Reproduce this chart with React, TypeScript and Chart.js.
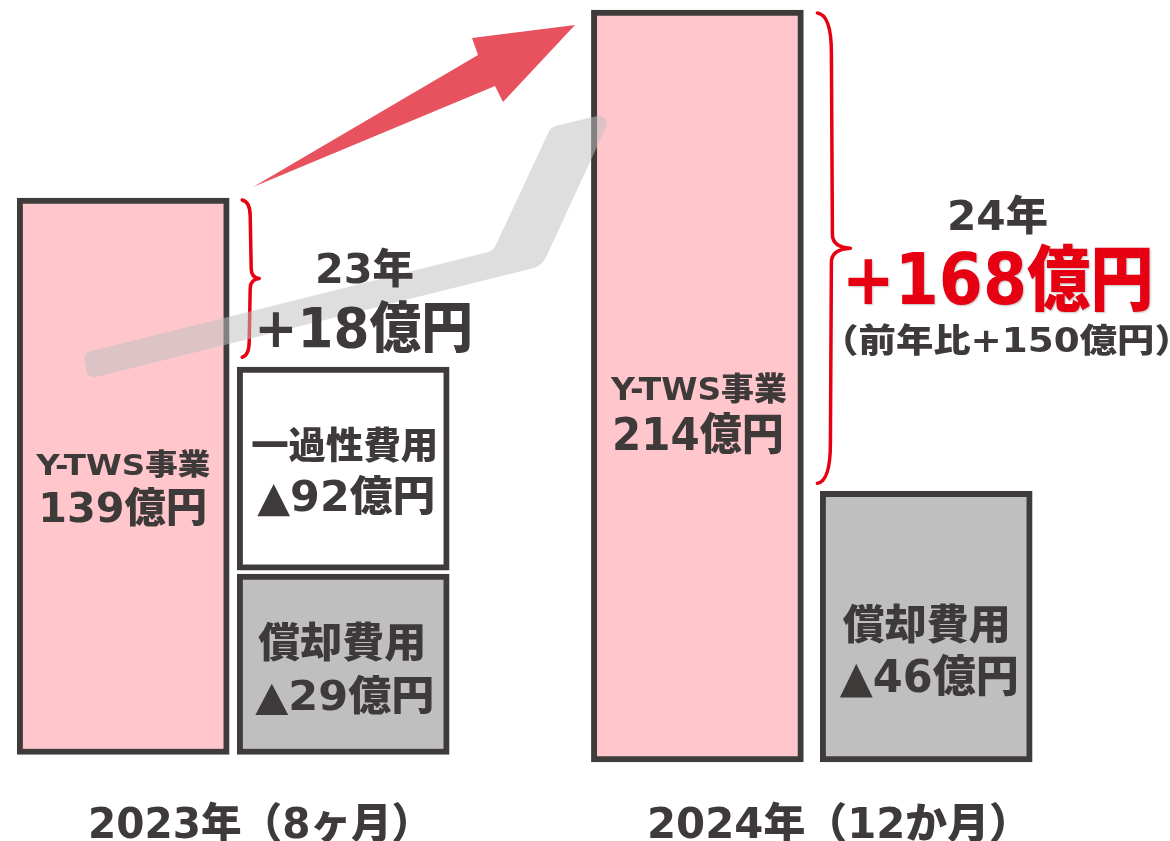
import React, { useEffect, useRef } from 'react';
import { Chart, registerables } from 'chart.js';

Chart.register(...registerables);

// ---------------- data ----------------
const yearLabels = ['2023年（8ヶ月）', '2024年（12か月）'];
const barNames = ['Y-TWS事業', '一過性費用', '償却費用', 'Y-TWS事業', '償却費用'];
const barKinds = ['revenue', 'oneoff', 'amort', 'revenue', 'amort'];
const barAmounts = [139, -92, -29, 214, -46]; // 億円
// schematic bar extents (diagram units)
const barSlots = [0.56, 1.56, 1.56, 3.17, 4.21];
const barLow = [1, 25.5, 1, 0, 0];
const barHigh = [75, 52.5, 25, 100, 36];
const profitYears = ['23年', '24年'];
const profitValues = [18, 168];
const yoyChange = [150];

// ---------------- styles ----------------
const FONT = '"DejaVu Sans", "Noto Sans CJK JP", sans-serif';
const TEXT = '#3f3a3a';
const RED = '#e60012';
const kindStyle: Record<string, { bg: string; label: string }> = {
  revenue: { bg: '#ffc7cc', label: 'Y-TWS事業' },
  oneoff: { bg: '#ffffff', label: '一過性費用' },
  amort: { bg: '#bfbfbf', label: '償却費用' },
};

const fmtAmount = (v: number) => (v < 0 ? `▲${-v}億円` : `${v}億円`);

// text layout for bar labels: [name line, amount line]
const barTextLayout = [
  { name: { dx: -0.5, y: 475, size: 29, w: 175 }, amt: { dx: 0.5, y: 522, size: 41, w: 163 } },
  { name: { dx: 0.5, y: 459, size: 37, w: 183 }, amt: { dx: 2, y: 511, size: 42, w: 176 } },
  { name: { dx: -2.5, y: 657, size: 41, w: 165 }, amt: { dx: 0.5, y: 710, size: 41, w: 177 } },
  { name: { dx: 1, y: 400, size: 32, w: 177 }, amt: { dx: 1, y: 450, size: 44, w: 167 } },
  { name: { dx: -1, y: 639, size: 41, w: 165 }, amt: { dx: 2, y: 692, size: 44, w: 177 } },
];

function drawFit(
  ctx: CanvasRenderingContext2D,
  text: string,
  cx: number,
  baseline: number,
  size: number,
  width: number,
  color: string,
  shadow = false
) {
  ctx.save();
  ctx.font = `900 ${size}px ${FONT}`;
  ctx.textAlign = 'left';
  ctx.textBaseline = 'alphabetic';
  const m = ctx.measureText(text);
  const l = m.actualBoundingBoxLeft || 0;
  const r = m.actualBoundingBoxRight || m.width;
  const ink = l + r;
  const sx = width / ink;
  ctx.translate(cx, baseline);
  ctx.scale(sx, 1);
  if (shadow) {
    ctx.shadowColor = 'rgba(0,0,0,0.25)';
    ctx.shadowOffsetX = 1;
    ctx.shadowOffsetY = 1;
    ctx.shadowBlur = 2;
  }
  ctx.fillStyle = color;
  ctx.fillText(text, (l - r) / 2, 0);
  ctx.restore();
}

function roundedPoly(ctx: CanvasRenderingContext2D, pts: number[][], radii: number[]) {
  const n = pts.length;
  const a = pts[n - 1];
  const b = pts[0];
  ctx.beginPath();
  ctx.moveTo((a[0] + b[0]) / 2, (a[1] + b[1]) / 2);
  for (let i = 0; i < n; i++) {
    const p = pts[i];
    const q = pts[(i + 1) % n];
    ctx.arcTo(p[0], p[1], q[0], q[1], radii[i]);
  }
  ctx.closePath();
}

function drawBrace(
  ctx: CanvasRenderingContext2D,
  x0: number,
  top: number,
  bottom: number,
  off: number,
  tip: number,
  curl: number,
  midCurl: number,
  midFrac: number
) {
  const mid = top + (bottom - top) * midFrac;
  ctx.beginPath();
  ctx.moveTo(x0, top);
  ctx.quadraticCurveTo(x0 + off, top + 2, x0 + off, top + curl);
  ctx.lineTo(x0 + off + 1, mid - midCurl);
  ctx.quadraticCurveTo(x0 + off + 1, mid - 1, x0 + tip, mid);
  ctx.quadraticCurveTo(x0 + off, mid + 1, x0 + off, mid + midCurl);
  ctx.lineTo(x0 + off - 1, bottom - curl);
  ctx.quadraticCurveTo(x0 + off - 1, bottom - 2, x0, bottom);
  ctx.strokeStyle = RED;
  ctx.lineWidth = 3.5;
  ctx.lineCap = 'round';
  ctx.lineJoin = 'round';
  ctx.stroke();
}

const overlayPlugin = {
  id: 'overlay',
  afterDatasetsDraw(chart: any) {
    const ctx: CanvasRenderingContext2D = chart.ctx;
    // map bar index -> element
    const els: any[] = [];
    chart.data.datasets.forEach((ds: any, di: number) => {
      const meta = chart.getDatasetMeta(di);
      ds.barIdx.forEach((bi: number, j: number) => {
        els[bi] = meta.data[j];
      });
    });
    const right = (e: any) => e.x + e.width / 2;

    // braces (from revenue bar top down to cost bar top)
    drawBrace(ctx, right(els[0]) + 13, els[0].y + 2, els[1].y - 10, 8, 17, 16, 10, 0.5);
    drawBrace(ctx, right(els[3]) + 14, els[3].y + 3, els[4].y - 8, 14, 33, 40, 14, 0.5);

    // red arrow
    ctx.save();
    ctx.beginPath();
    const arrow = [
      [253, 187],
      [495, 86],
      [503, 102],
      [575, 25],
      [472, 38],
      [478, 55],
    ];
    ctx.moveTo(arrow[0][0], arrow[0][1]);
    for (let i = 1; i < arrow.length; i++) ctx.lineTo(arrow[i][0], arrow[i][1]);
    ctx.closePath();
    ctx.fillStyle = '#e8525f';
    ctx.fill();
    ctx.restore();

    // translucent gray band
    ctx.save();
    roundedPoly(
      ctx,
      [
        [83, 353],
        [493, 251],
        [551, 127],
        [613, 112],
        [542, 266],
        [88, 379],
      ],
      [7, 14, 12, 8, 22, 7]
    );
    ctx.fillStyle = 'rgba(191,191,191,0.52)';
    ctx.fill();
    ctx.restore();

    // bar labels
    barNames.forEach((name, i) => {
      const e = els[i];
      const L = barTextLayout[i];
      drawFit(ctx, name, e.x + L.name.dx, L.name.y, L.name.size, L.name.w, TEXT);
      drawFit(ctx, fmtAmount(barAmounts[i]), e.x + L.amt.dx, L.amt.y, L.amt.size, L.amt.w, TEXT);
    });

    // profit annotations
    drawFit(ctx, profitYears[0], 365.5, 283, 41, 95, TEXT);
    drawFit(ctx, `+${profitValues[0]}億円`, 364.5, 347, 55, 211, TEXT);
    drawFit(ctx, profitYears[1], 998.5, 230, 41, 97, TEXT);
    drawFit(ctx, `+${profitValues[1]}億円`, 999, 304, 71, 302, RED, true);
    drawFit(ctx, `（前年比+${yoyChange[0]}億円）`, 1006.5, 352, 33, 323, TEXT);

    // year labels
    drawFit(ctx, yearLabels[0], 248.5, 838, 42, 315, TEXT);
    drawFit(ctx, yearLabels[1], 827, 838, 42, 354, TEXT);
  },
};

export default function App() {
  const ref = useRef<HTMLCanvasElement | null>(null);
  useEffect(() => {
    if (!ref.current) return;
    const kinds = ['revenue', 'oneoff', 'amort'];
    const datasets = kinds.map((k) => {
      const idx = barKinds.map((bk, i) => (bk === k ? i : -1)).filter((i) => i >= 0);
      return {
        label: kindStyle[k].label,
        barIdx: idx,
        data: idx.map((i) => ({ x: barSlots[i], y: [barLow[i], barHigh[i]] })),
        backgroundColor: kindStyle[k].bg,
        borderColor: '#403b3b',
        borderWidth: 6,
        borderSkipped: false,
        barThickness: 212,
        grouped: false,
      };
    });
    const chart = new Chart(ref.current, {
      type: 'bar',
      data: { datasets } as any,
      options: {
        animation: false,
        responsive: false,
        layout: { padding: 0 },
        plugins: { legend: { display: false }, tooltip: { enabled: false } },
        scales: {
          x: { type: 'linear', display: false, min: 0, max: 1170 / 220, offset: false },
          y: { type: 'linear', display: false, min: -10.505, max: 101.33 },
        },
      } as any,
      plugins: [overlayPlugin],
    });
    return () => chart.destroy();
  }, []);
  return (
    <div style={{ position: 'absolute', left: 0, top: 0, width: 1170, height: 841, background: '#fff' }}>
      <canvas ref={ref} width={1170} height={841} />
    </div>
  );
}
